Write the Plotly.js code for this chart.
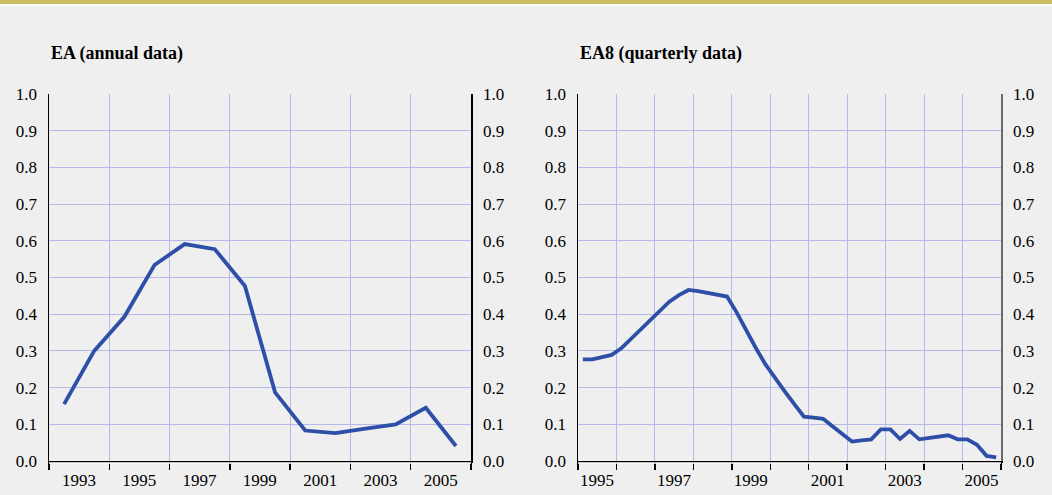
<!DOCTYPE html>
<html><head><meta charset="utf-8">
<script src="https://cdn.plot.ly/plotly-3.0.1.min.js"></script>
<style>html,body{margin:0;padding:0;background:#efefef;}#chart{width:1052px;height:495px;}</style>
</head><body><div id="chart"></div>
<script>
// ---- data ----
const annualYears = [1993,1994,1995,1996,1997,1998,1999,2000,2001,2002,2003,2004,2005,2006];
const annualValues = [0.155,0.300,0.393,0.534,0.591,0.577,0.477,0.187,0.083,0.076,0.088,0.100,0.145,0.041];
const annualTickLabels = ["1993","1995","1997","1999","2001","2003","2005"];

const quarterYears = [1995,1995,1995,1995,1996,1996,1996,1996,1997,1997,1997,1997,1998,1998,1998,1998,
  1999,1999,1999,1999,2000,2000,2000,2000,2001,2001,2001,2001,2002,2002,2002,2002,
  2003,2003,2003,2003,2004,2004,2004,2004,2005,2005,2005,2005];
const quarterNums = [1,2,3,4,1,2,3,4,1,2,3,4,1,2,3,4,1,2,3,4,1,2,3,4,1,2,3,4,1,2,3,4,1,2,3,4,1,2,3,4,1,2,3,4];
const quarterlyValues = [0.277,0.277,0.283,0.289,0.307,0.332,0.358,0.384,0.410,0.434,0.452,0.466,
  0.463,0.458,0.453,0.448,0.405,0.355,0.308,0.263,0.225,0.190,0.155,0.121,
  0.118,0.115,0.094,0.074,0.053,0.056,0.059,0.086,0.086,0.060,0.082,0.059,
  0.063,0.067,0.070,0.059,0.059,0.044,0.014,0.010];
const quarterlyTickLabels = ["1995","1997","1999","2001","2003","2005"];

const titleLeft = "EA (annual data)";
const titleRight = "EA8 (quarterly data)";

// ---- positions derived from categories ----
const xAnnual = annualYears.map(y => y + 0.5);
const xQuarter = quarterYears.map((y, i) => y + (quarterNums[i] - 0.5) / 4);

const annTickVals = [], annTickText = [];
for (let y = annualYears[0]; y <= annualYears[annualYears.length - 1] + 1; y += 2) {
  annTickVals.push(y);
  annTickText.push(annualTickLabels.includes(String(y)) ? String(y) : "");
}
const qTickVals = [], qTickText = [];
for (let y = quarterYears[0]; y <= quarterYears[quarterYears.length - 1] + 1; y += 1) {
  qTickVals.push(y);
  qTickText.push(quarterlyTickLabels.includes(String(y)) ? String(y) : "");
}

// ---- styles ----
const W = 1052, H = 495;
const FONT = "'Liberation Serif', 'Times New Roman', serif";
const lineColor = "#2e4fa8";
const gridColor = "#b5b9ea";
const bg = "#efefef";
const plotTop = 94, plotBottom = 461;
const yDomain = [(H - plotBottom) / H, (H - plotTop) / H];
const leftDom = [49 / W, 471 / W];
const rightDom = [578 / W, 1001 / W];

function yAx(anchor, extra) {
  return Object.assign({
    anchor: anchor, domain: yDomain, range: [0, 1], tickmode: "linear", tick0: 0, dtick: 0.1,
    tickformat: ".1f", showgrid: true, gridcolor: gridColor, gridwidth: 1, zeroline: false,
    showline: true, linecolor: "#000", linewidth: 1.5, ticks: "outside", ticklen: 7,
    tickcolor: "rgba(0,0,0,0)", tickfont: {family: FONT, size: 17, color: "#000"},
    automargin: false, fixedrange: true
  }, extra || {});
}
function xAx(anchor, domain, range, tv, tt, shift) {
  return {
    anchor: anchor, domain: domain, range: range, tickmode: "array", tickvals: tv, ticktext: tt,
    showgrid: true, gridcolor: gridColor, gridwidth: 1, zeroline: false,
    showline: true, linecolor: "#000", linewidth: 1.5, ticks: "outside", ticklen: 7, tickwidth: 1.5,
    tickcolor: "#000", ticklabelshift: Math.round(shift), ticklabelstandoff: -4,
    tickfont: {family: FONT, size: 17, color: "#000"},
    automargin: false, fixedrange: true
  };
}

const annPx = (471 - 49) / (annualYears.length); // px per year
const qPx = (1001 - 578) / (qTickVals.length - 1);

const traces = [
  {x: xAnnual, y: annualValues, xaxis: "x", yaxis: "y", mode: "lines", line: {color: lineColor, width: 3.8}, hoverinfo: "skip"},
  {x: xAnnual, y: annualValues, xaxis: "x", yaxis: "y3", mode: "lines", opacity: 0, line: {color: lineColor, width: 0.1}, hoverinfo: "skip"},
  {x: xQuarter, y: quarterlyValues, xaxis: "x2", yaxis: "y2", mode: "lines", line: {color: lineColor, width: 3.8}, hoverinfo: "skip"},
  {x: xQuarter, y: quarterlyValues, xaxis: "x2", yaxis: "y4", mode: "lines", opacity: 0, line: {color: lineColor, width: 0.1}, hoverinfo: "skip"}
];

function whiteEdge(xd, yd) {
  return {type: "line", xref: xd, yref: yd, x0: 0, x1: 1, ysizemode: "pixel", yanchor: 0, y0: -2, y1: -2,
          line: {color: "#ffffff", width: 1.5}, layer: "above"};
}

const layout = {
  width: W, height: H, margin: {l: 0, r: 0, t: 0, b: 0, pad: 0},
  paper_bgcolor: bg, plot_bgcolor: bg, showlegend: false,
  font: {family: FONT, color: "#000"},
  xaxis: xAx("y", leftDom, [annualYears[0], annualYears[annualYears.length - 1] + 1], annTickVals, annTickText, annPx),
  xaxis2: xAx("y2", rightDom, [quarterYears[0], quarterYears[quarterYears.length - 1] + 1], qTickVals, qTickText, qPx / 2),
  yaxis: yAx("x"),
  yaxis3: yAx("x", {overlaying: "y", side: "right", showgrid: false}),
  yaxis2: yAx("x2"),
  yaxis4: yAx("x2", {overlaying: "y2", side: "right", showgrid: false, linecolor: "#6a6a6a"}),
  shapes: [
    {type: "rect", xref: "paper", yref: "paper", x0: 0, x1: 1, y0: 1 - 4 / H, y1: 1, fillcolor: "#ccbd62", line: {width: 0}, layer: "above"},
    {type: "rect", xref: "paper", yref: "paper", x0: 0, x1: 1, y0: 1 - 6 / H, y1: 1 - 4 / H, fillcolor: "#ffffff", line: {width: 0}, layer: "above"},
    whiteEdge("x domain", "y domain"),
    whiteEdge("x2 domain", "y2 domain")
  ],
  annotations: [
    {text: "<b>" + titleLeft + "</b>", xref: "paper", yref: "paper", x: leftDom[0], y: 1 - 53 / H, xanchor: "left", yanchor: "middle", showarrow: false, font: {family: FONT, size: 18, color: "#000"}},
    {text: "<b>" + titleRight + "</b>", xref: "paper", yref: "paper", x: rightDom[0], y: 1 - 53 / H, xanchor: "left", yanchor: "middle", showarrow: false, font: {family: FONT, size: 18, color: "#000"}}
  ]
};

Plotly.newPlot("chart", traces, layout, {staticPlot: true, displayModeBar: false});
</script>
</body></html>
